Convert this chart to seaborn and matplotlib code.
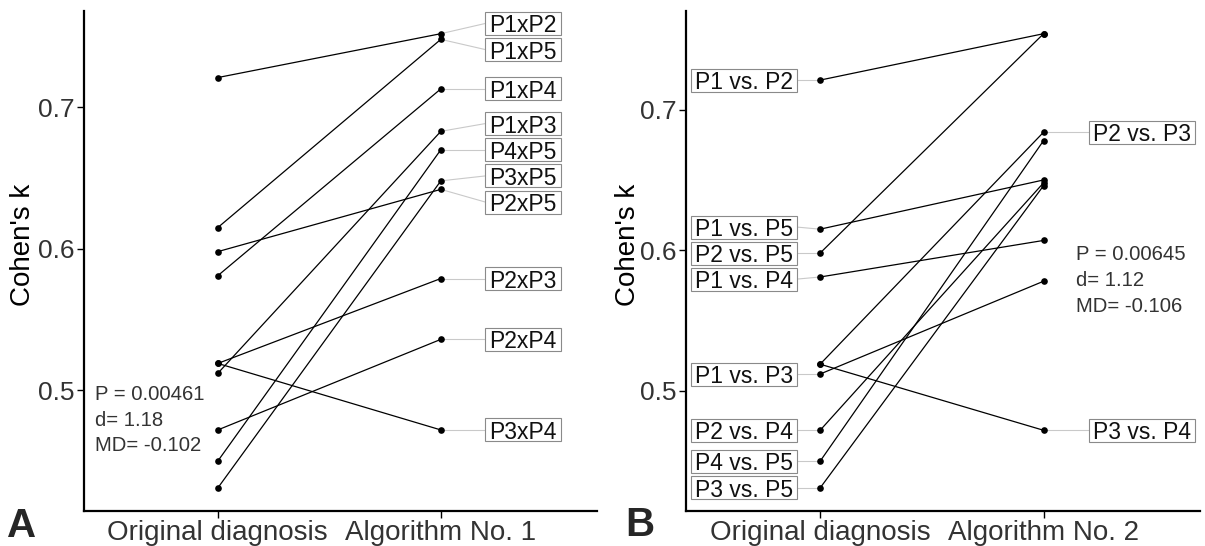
import numpy as np
import pandas as pd
import matplotlib
matplotlib.use('Agg')
import matplotlib.pyplot as plt
import seaborn as sns
from matplotlib.patches import Rectangle

# --- data (Cohen's kappa per pair of raters) ---
stages_a = ['Original diagnosis', 'Algorithm No. 1']
stages_b = ['Original diagnosis', 'Algorithm No. 2']

pairs_a = ['P1xP2', 'P1xP5', 'P2xP5', 'P1xP4', 'P2xP3',
           'P3xP4', 'P1xP3', 'P2xP4', 'P4xP5', 'P3xP5']
pairs_b = ['P1 vs. P2', 'P1 vs. P5', 'P2 vs. P5', 'P1 vs. P4', 'P2 vs. P3',
           'P3 vs. P4', 'P1 vs. P3', 'P2 vs. P4', 'P4 vs. P5', 'P3 vs. P5']

kappa_orig = [0.721, 0.615, 0.598, 0.581, 0.519, 0.519, 0.512, 0.472, 0.450, 0.431]
kappa_alg1 = [0.752, 0.748, 0.642, 0.713, 0.579, 0.472, 0.683, 0.536, 0.670, 0.648]
kappa_alg2 = [0.754, 0.650, 0.754, 0.607, 0.684, 0.472, 0.578, 0.648, 0.678, 0.646]

# which pairs get a label on which side in panel B
left_labels_b = ['P1 vs. P2', 'P1 vs. P5', 'P2 vs. P5', 'P1 vs. P4',
                 'P1 vs. P3', 'P2 vs. P4', 'P4 vs. P5', 'P3 vs. P5']
right_labels_b = ['P2 vs. P3', 'P3 vs. P4']

stats_a = 'P = 0.00461\nd= 1.18\nMD= -0.102'
stats_b = 'P = 0.00645\nd= 1.12\nMD= -0.106'


def long_df(pairs, before, after):
    n = len(pairs)
    return pd.DataFrame({'pair': list(pairs) * 2,
                         'pos': [0] * n + [1] * n,
                         'kappa': list(before) + list(after)})


def spread(vals, gap):
    # 1D label repel: keep labels at least `gap` apart, as close to their points as possible
    vals = np.asarray(vals, dtype=float)
    order = np.argsort(vals)
    shift = gap * np.arange(len(vals))
    v = vals[order] - shift
    blocks = []
    for x in v:
        blocks.append([x, 1])
        while len(blocks) > 1 and blocks[-2][0] / blocks[-2][1] > blocks[-1][0] / blocks[-1][1]:
            s, c = blocks.pop()
            blocks[-1][0] += s
            blocks[-1][1] += c
    fitted = np.concatenate([[s / c] * c for s, c in blocks]) + shift
    out = np.empty(len(vals))
    out[order] = fitted
    return out


sns.set_theme(style='ticks')
plt.rcParams['font.family'] = ['Liberation Sans', 'DejaVu Sans']

fig = plt.figure(figsize=(12.05, 5.46), dpi=100)
ax_a = fig.add_axes([0.0697, 0.0647, 0.4257, 0.9152])
ax_b = fig.add_axes([0.5693, 0.0647, 0.4266, 0.9152])

label_boxes = []
GAP = 0.0185
PAD = 4  # px inside box


def add_label(ax, text, x_pt, y_pt, x_edge, y_lab, side):
    off = PAD if side == 'right' else -PAD
    t = ax.annotate(text, xy=(x_edge, y_lab), xytext=(off * 0.72, 0),
                    textcoords='offset points', ha='left' if side == 'right' else 'right',
                    va='center_baseline', fontsize=16.5, color='#111111', zorder=6)
    ax.plot([x_pt, x_edge], [y_pt, y_lab], color='#c9c9c9', lw=0.8, zorder=1)
    label_boxes.append((ax, t, x_edge, y_lab, side))


def draw_panel(ax, pairs, before, after, stages, ylab_x):
    df = long_df(pairs, before, after)
    sns.lineplot(data=df, x='pos', y='kappa', units='pair', estimator=None,
                 color='black', lw=0.9, marker='o', markersize=4.8,
                 markeredgewidth=0, sort=False, legend=False, ax=ax, zorder=3)
    ax.set_xlim(-0.6, 1.7)
    lo, hi = min(before + after), max(before + after)
    ax.set_ylim(lo - 0.05 * (hi - lo), hi + 0.05 * (hi - lo))
    ax.set_xticks([0, 1])
    ax.set_xticklabels(stages, fontsize=20, color='#333333')
    ax.set_yticks([0.5, 0.6, 0.7])
    ax.set_yticklabels(['0.5', '0.6', '0.7'], fontsize=19, color='#333333')
    ax.set_xlabel('')
    ax.set_ylabel("Cohen's k", fontsize=20, color='black')
    ax.yaxis.set_label_coords(ylab_x, 0.532)
    ax.tick_params(length=5, width=1.0, color='black', pad=2)
    ax.tick_params(axis='x', pad=1.5)
    for side in ['top', 'right']:
        ax.spines[side].set_visible(False)
    for side in ['left', 'bottom']:
        ax.spines[side].set_linewidth(1.6)
        ax.spines[side].set_color('black')


# --- panel A ---
draw_panel(ax_a, pairs_a, kappa_orig, kappa_alg1, stages_a, -0.093)
ys = spread(kappa_alg1, GAP)
for name, v, yl in zip(pairs_a, kappa_alg1, ys):
    add_label(ax_a, name, 1, v, 1.2, yl, 'right')
ax_a.text(-0.551, 0.479, stats_a, ha='left', va='center', fontsize=14.6,
          color='#333333', linespacing=1.45)

# --- panel B ---
draw_panel(ax_b, pairs_b, kappa_orig, kappa_alg2, stages_b, -0.087)
idx_l = [pairs_b.index(p) for p in left_labels_b]
ys = spread([kappa_orig[i] for i in idx_l], GAP)
for i, yl in zip(idx_l, ys):
    add_label(ax_b, pairs_b[i], 0, kappa_orig[i], -0.104, yl, 'left')
idx_r = [pairs_b.index(p) for p in right_labels_b]
ys = spread([kappa_alg2[i] for i in idx_r], GAP)
for i, yl in zip(idx_r, ys):
    add_label(ax_b, pairs_b[i], 1, kappa_alg2[i], 1.205, yl, 'right')
ax_b.text(1.144, 0.5786, stats_b, ha='left', va='center', fontsize=14.6,
          color='#333333', linespacing=1.45)

# boxes around labels, fixed height in pixels
fig.canvas.draw()
renderer = fig.canvas.get_renderer()
for ax, t, x_edge, y_lab, side in label_boxes:
    bb = t.get_window_extent(renderer)
    w = bb.width + 2 * PAD
    ex, ey = ax.transData.transform((x_edge, y_lab))
    x0 = ex if side == 'right' else ex - w
    inv = ax.transData.inverted()
    (dx0, dy0), (dx1, dy1) = inv.transform([(x0, ey - 11.5), (x0 + w, ey + 11.5)])
    ax.add_patch(Rectangle((dx0, dy0), dx1 - dx0, dy1 - dy0, fc='white',
                           ec='#8a8a8a', lw=0.8, zorder=5, clip_on=False))

fig.text(7 / 1205, 0.001, 'A', fontsize=29, fontweight='bold', va='bottom')
fig.text(625 / 1205, 0.003, 'B', fontsize=29, fontweight='bold', va='bottom')

fig.savefig('out.png', dpi=100)
